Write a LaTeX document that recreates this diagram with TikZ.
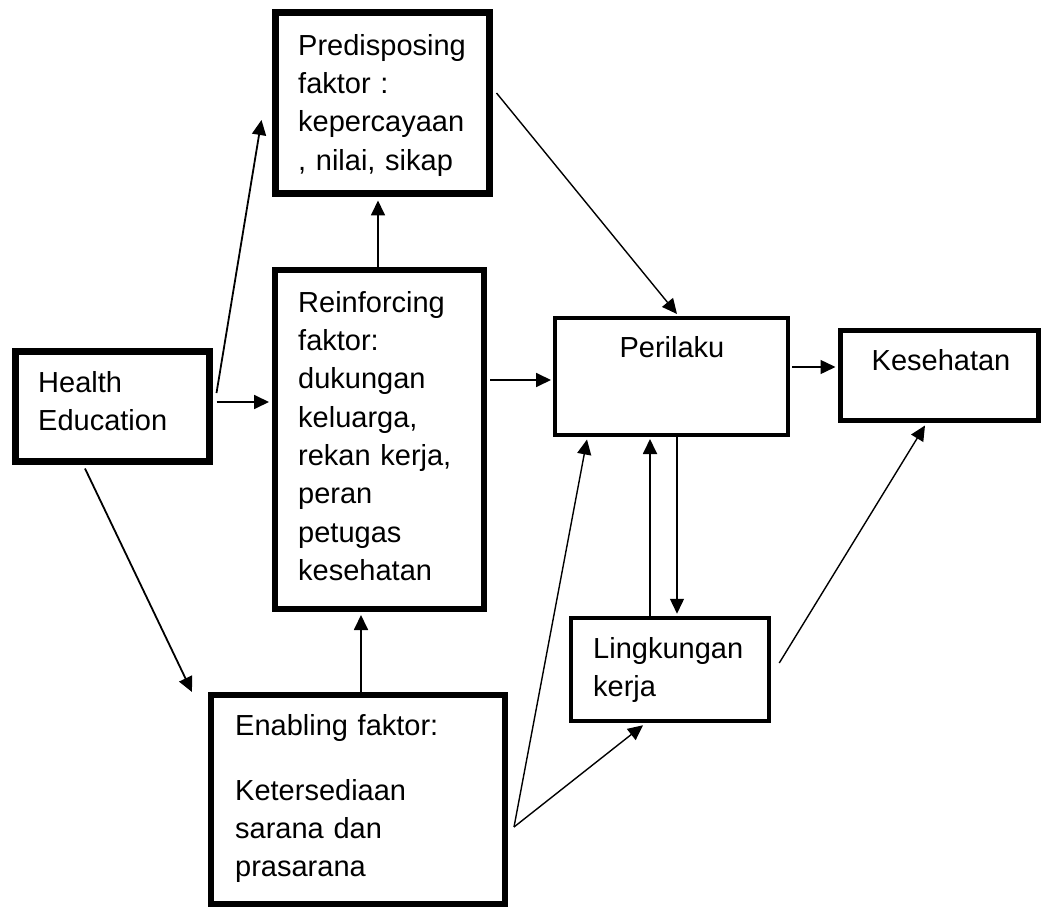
\documentclass[tikz,border=0pt]{standalone}
\usepackage{fontspec}
\setmainfont{Liberation Sans}
\usetikzlibrary{arrows.meta,calc}
\tikzset{
  bx/.style={draw=black, line width=#1, inner sep=0pt},
  txt/.style={inner sep=0pt, font=\fontsize{29}{38.3}\selectfont},
  ml/.style={txt, anchor=north west, align=left, text width=#1},
  arr/.style={line width=1.8pt, -{Triangle[length=15pt,width=14pt]}},
  thinarr/.style={line width=1.4pt, -{Triangle[length=15pt,width=14pt]}},
}
\begin{document}
\begin{tikzpicture}[x=1pt,y=-1pt]
\useasboundingbox (0,0) rectangle (1044,909);
% boxes
\node[bx=7pt, minimum width=214pt, minimum height=181pt] (pre) at (382.5,103) {};
\node[bx=7pt, minimum width=194pt, minimum height=110pt] (he) at (112.5,406.5) {};
\node[bx=6pt, minimum width=209pt, minimum height=339pt] (rein) at (379.5,439.5) {};
\node[bx=4pt, minimum width=233pt, minimum height=117pt] (per) at (671.5,376.5) {};
\node[bx=5pt, minimum width=198pt, minimum height=90pt] (kes) at (939.5,375.5) {};
\node[bx=4.5pt, minimum width=198pt, minimum height=103pt] (lin) at (670,669.5) {};
\node[bx=6pt, minimum width=294pt, minimum height=209pt] (ena) at (358,799.5) {};
% texts
\node[ml=190pt] (preT) at (298,28.2) {\strut Predisposing\\faktor :\\kepercayaan\\, nilai, sikap};
\node[ml=170pt, font=\fontsize{29}{38}\selectfont] (heT) at (38,365.2) {\strut Health\\Education};
\node[ml=185pt] (reinT) at (298,285.2) {\strut Reinforcing\\faktor:\\dukungan\\keluarga,\\rekan kerja,\\peran\\petugas\\kesehatan};
\node[txt, anchor=base] (perT) at (672,357) {Perilaku};
\node[txt, anchor=base] (kesT) at (941,370) {Kesehatan};
\node[ml=175pt] (linT) at (593,631.2) {\strut Lingkungan\\kerja};
\node[ml=260pt] (enaT) at (235,708.2) {\strut Enabling faktor:\\[26.7pt]Ketersediaan\\sarana dan\\prasarana};
% connectors
\draw[arr] ($(he.east)+(3.5,-13.5)$) -- ($(pre.west)+(-10.5,17)$);
\draw[arr] ($(he.east)+(3.5,-4.5)$) -- ($(rein.west)+(-3,-37.5)$);
\draw[arr] ($(he.south)+(-27.5,3.5)$) -- ($(ena.north west)+(-16,0)$);
\draw[arr] ($(rein.north)+(-1.5,0)$) -- ($(pre.south)+(-4.5,3.5)$);
\draw[arr] ($(ena.north)+(3,0)$) -- ($(rein.south)+(-18.5,3)$);
\draw[arr] ($(rein.east)+(3,-59.5)$) -- ($(per.west)+(-2,3.5)$);
\draw[thinarr] ($(pre.east)+(3.5,-10)$) -- ($(per.north)+(5.5,-2)$);
\draw[thinarr] ($(per.east)+(2,-9.5)$) -- ($(kes.west)+(-2.5,-8.5)$);
\draw[thinarr] ($(ena.east)+(6,27.5)$) -- ($(per.south)+(-84.5,2.5)$);
\draw[thinarr] ($(ena.east)+(6,27.5)$) -- ($(lin.south)+(-27,2)$);
\draw[arr] ($(lin.north)+(-20,0)$) -- ($(per.south)+(-21.5,2)$);
\draw[thinarr] ($(per.south)+(5.5,0)$) -- ($(lin.north)+(7,-2)$);
\draw[thinarr] ($(lin.east)+(8,-6.5)$) -- ($(kes.south)+(-14.5,2.5)$);
\end{tikzpicture}
\end{document}
